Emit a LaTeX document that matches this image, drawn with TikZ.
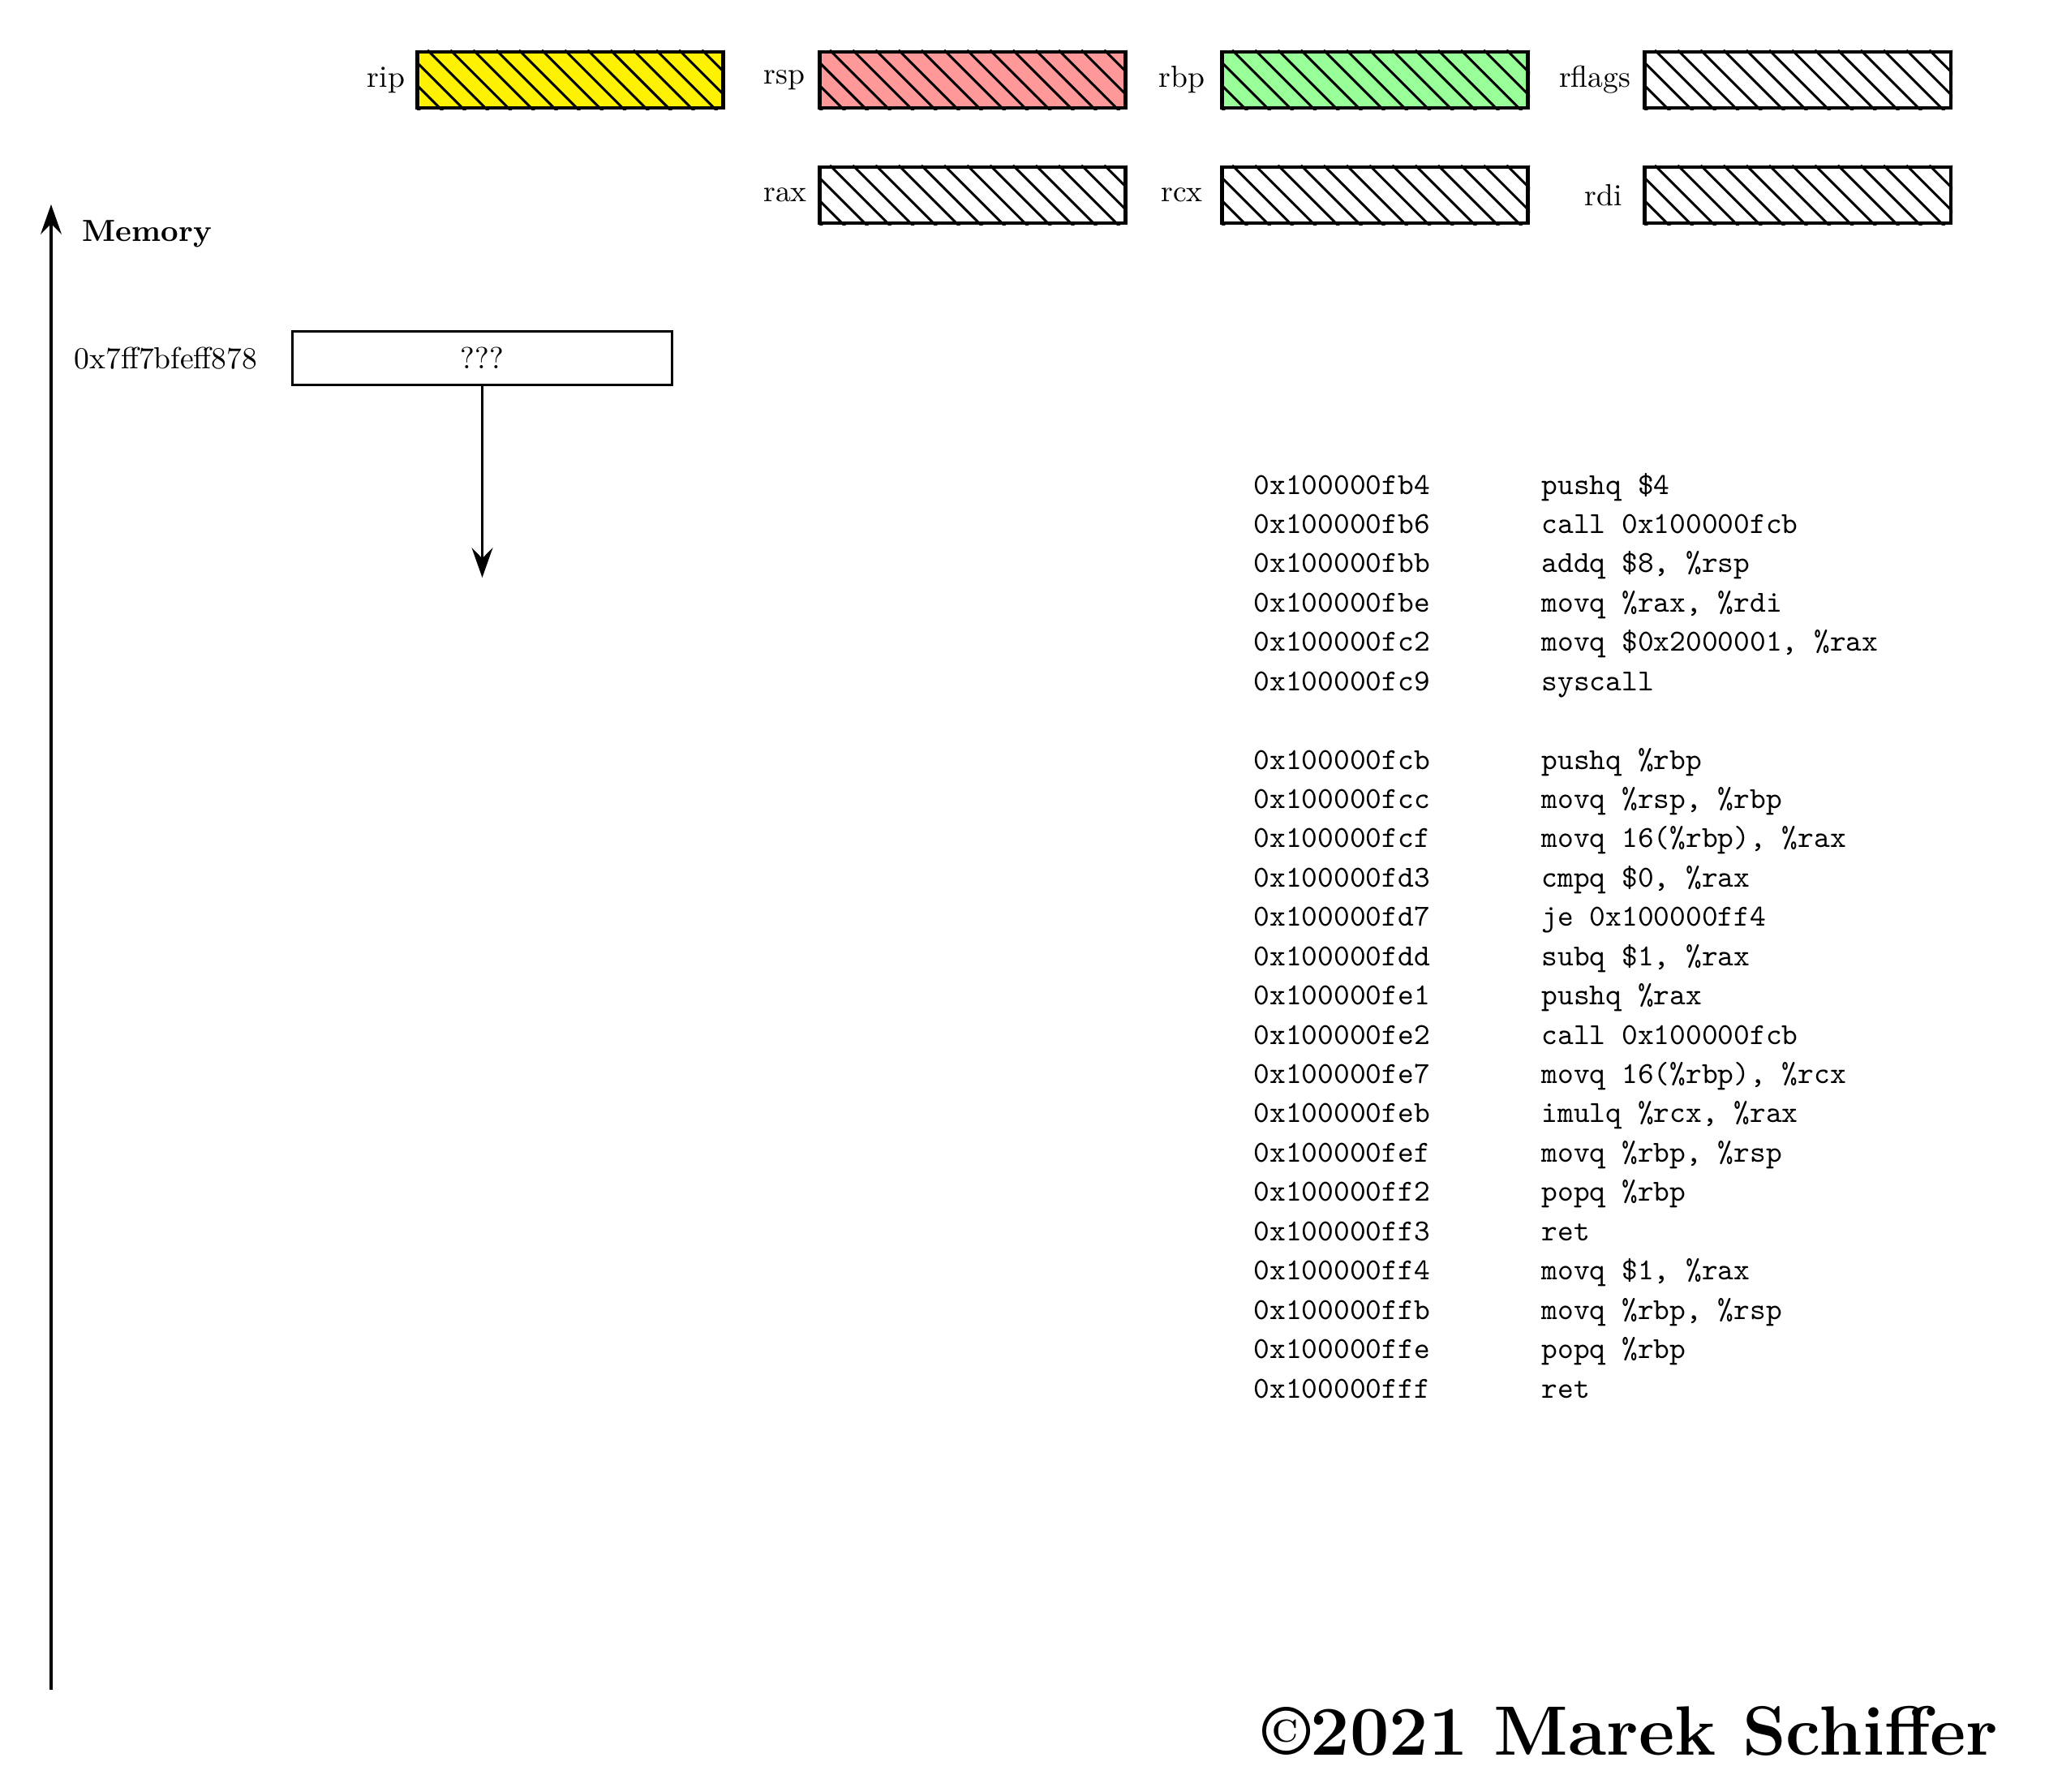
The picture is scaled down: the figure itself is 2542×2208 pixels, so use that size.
\documentclass[tikz,border=0pt]{standalone}
\usetikzlibrary{arrows.meta}
\newcommand\hatchbox[1]{%
  \begin{scope}
    \clip (#1.south west) rectangle (#1.north east);
    \foreach \k in {-3,...,14}
      \draw[line width=0.8pt] ([xshift=\k*7.5pt+4pt]#1.north west) -- ++(21pt,-21pt);
  \end{scope}}
\begin{document}
\begin{tikzpicture}[x=0.266pt,y=-0.266pt,
  reg/.style={draw, line width=1.2pt, minimum width=100.4pt, minimum height=18.35pt,
    inner sep=0pt, fill=#1},
  reg/.default=white,
  reglbl/.style={inner sep=0pt},
  tip/.style={-{Stealth[length=9.8pt,width=6.9pt,inset=3.5pt]}},
  addr/.style={anchor=base west, inner sep=0pt, font=\ttfamily},
  instr/.style={anchor=base west, inner sep=0pt, font=\ttfamily}]
\useasboundingbox (0,0) rectangle (2542,2208);

% registers
\node[reg=yellow] (rip) at (703,98.5) {};
\node[reg=red!40] (rsp) at (1199,98.5) {};
\node[reg=green!40] (rbp) at (1695,98.5) {};
\node[reg] (rflags) at (2216,98.5) {};
\node[reg] (rax) at (1199,240.5) {};
\node[reg] (rcx) at (1695,240.5) {};
\node[reg] (rdi) at (2216,240.5) {};
\foreach \r in {rip,rsp,rbp,rflags,rax,rcx,rdi} {\hatchbox{\r}}

\node[reglbl] (lrip) at (rip.center -| 476,0) {rip};
\node[reglbl] (lrsp) at (rsp.center -| 967,0) {rsp};
\node[reglbl] (lrbp) at (rbp.center -| 1457,0) {rbp};
\node[reglbl] (lrflags) at (rflags.center -| 1966,0) {rflags};
\node[reglbl] (lrax) at (rax.center -| 968,0) {rax};
\node[reglbl] (lrcx) at (rcx.center -| 1457,0) {rcx};
\node[reglbl] (lrdi) at (rdi.center -| 1977,0) {rdi};

% memory axis
\coordinate (axbot) at (63,2083);
\coordinate (axtop) at (63,252);
\draw[thick, tip] (axbot) -- (axtop);
\node[anchor=base west, inner sep=0pt, font=\bfseries] (memlbl) at (101,297) {Memory};

% memory cell
\node[draw, thick, minimum width=124.5pt, minimum height=17.6pt, inner sep=0pt] (cell) at (594.5,441.5) {???};
\node[anchor=east, inner sep=0pt] (celladdr) at (318,441.5) {0x7ff7bfeff878};
\coordinate (arrend) at (594.5,712);
\draw[thick, tip] (cell.south) -- (arrend);

% code listing
\node[addr] (a0) at (1545,609) {0x100000fb4};    \node[instr] (i0) at (1900,609) {pushq \$4};
\node[addr] (a1) at (1545,657.4) {0x100000fb6};  \node[instr] (i1) at (1900,657.4) {call 0x100000fcb};
\node[addr] (a2) at (1545,705.9) {0x100000fbb};  \node[instr] (i2) at (1900,705.9) {addq \$8, \%rsp};
\node[addr] (a3) at (1545,754.3) {0x100000fbe};  \node[instr] (i3) at (1900,754.3) {movq \%rax, \%rdi};
\node[addr] (a4) at (1545,802.7) {0x100000fc2};  \node[instr] (i4) at (1900,802.7) {movq \$0x2000001, \%rax};
\node[addr] (a5) at (1545,851.2) {0x100000fc9};  \node[instr] (i5) at (1900,851.2) {syscall};

\node[addr] (a7) at (1545,948.0) {0x100000fcb};  \node[instr] (i7) at (1900,948.0) {pushq \%rbp};
\node[addr] (a8) at (1545,996.4) {0x100000fcc};  \node[instr] (i8) at (1900,996.4) {movq \%rsp, \%rbp};
\node[addr] (a9) at (1545,1044.9) {0x100000fcf}; \node[instr] (i9) at (1900,1044.9) {movq 16(\%rbp), \%rax};
\node[addr] (a10) at (1545,1093.3) {0x100000fd3}; \node[instr] (i10) at (1900,1093.3) {cmpq \$0, \%rax};
\node[addr] (a11) at (1545,1141.7) {0x100000fd7}; \node[instr] (i11) at (1900,1141.7) {je 0x100000ff4};
\node[addr] (a12) at (1545,1190.2) {0x100000fdd}; \node[instr] (i12) at (1900,1190.2) {subq \$1, \%rax};
\node[addr] (a13) at (1545,1238.6) {0x100000fe1}; \node[instr] (i13) at (1900,1238.6) {pushq \%rax};
\node[addr] (a14) at (1545,1287.0) {0x100000fe2}; \node[instr] (i14) at (1900,1287.0) {call 0x100000fcb};
\node[addr] (a15) at (1545,1335.5) {0x100000fe7}; \node[instr] (i15) at (1900,1335.5) {movq 16(\%rbp), \%rcx};
\node[addr] (a16) at (1545,1383.9) {0x100000feb}; \node[instr] (i16) at (1900,1383.9) {imulq \%rcx, \%rax};
\node[addr] (a17) at (1545,1432.3) {0x100000fef}; \node[instr] (i17) at (1900,1432.3) {movq \%rbp, \%rsp};
\node[addr] (a18) at (1545,1480.8) {0x100000ff2}; \node[instr] (i18) at (1900,1480.8) {popq \%rbp};
\node[addr] (a19) at (1545,1529.2) {0x100000ff3}; \node[instr] (i19) at (1900,1529.2) {ret};
\node[addr] (a20) at (1545,1577.6) {0x100000ff4}; \node[instr] (i20) at (1900,1577.6) {movq \$1, \%rax};
\node[addr] (a21) at (1545,1626.1) {0x100000ffb}; \node[instr] (i21) at (1900,1626.1) {movq \%rbp, \%rsp};
\node[addr] (a22) at (1545,1674.5) {0x100000ffe}; \node[instr] (i22) at (1900,1674.5) {popq \%rbp};
\node[addr] (a23) at (1545,1723.0) {0x100000fff}; \node[instr] (i23) at (1900,1723.0) {ret};

% copyright
\node[anchor=base east, inner sep=0pt, font=\fontsize{22.9}{27}\selectfont\bfseries] (copy) at (2464,2163) {\textcopyright2021 Marek Schiffer};
\end{tikzpicture}
\end{document}
